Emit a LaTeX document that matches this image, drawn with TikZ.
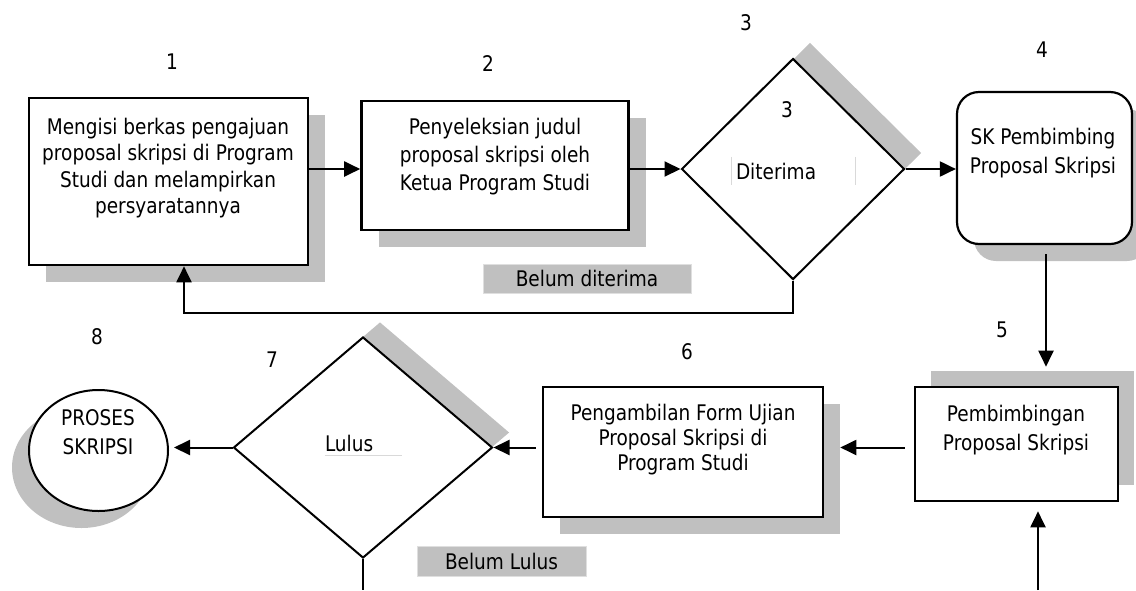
\documentclass[tikz,border=0pt]{standalone}
\usepackage{fontspec}
\setmainfont{DejaVu Sans}[FakeStretch=0.86]
\usetikzlibrary{shapes.geometric,shadows,arrows.meta,calc}
\definecolor{shade}{HTML}{C0C0C0}

\begin{document}
\begin{tikzpicture}[x=1pt,y=-1pt,
  every node/.style={inner sep=0pt,font=\fontsize{21.5}{27}\selectfont},
  shad/.style 2 args={general shadow={fill=shade,shadow xshift=#1,shadow yshift=#2}},
  box/.style={draw,fill=white,line width=2.6pt},
  dia/.style={draw,fill=white,diamond,line width=2pt},
  txt/.style={align=center},
  tag/.style={fill=shade,draw=gray!25,line width=.8pt},
  arr/.style={line width=2pt,-{Triangle[length=16pt,width=15pt]}},
  wire/.style={line width=2pt},
  faint/.style={draw=gray!30,line width=.8pt}]
\useasboundingbox (0,0) rectangle (1136,590);
\clip (0,0) rectangle (1136,590);

% upper row
\node [box,shad={17pt}{-17pt},minimum width=279pt,minimum height=167pt] (b1) at (168.5,181.5) {};
\node [txt,font=\fontsize{21.5}{26.5}\selectfont] (t1) at (168,168) {Mengisi berkas pengajuan\\proposal skripsi di Program\\Studi dan melampirkan\\persyaratannya};
\node (n1) at (172,62) {1};

\node [box,shad={17pt}{-17pt},minimum width=267pt,minimum height=129pt] (b2) at (495,165.5) {};
\node [txt,font=\fontsize{21.5}{28}\selectfont] (t2) at (495,157) {Penyeleksian judul\\proposal skripsi oleh\\Ketua Program Studi};
\node (n2) at (488,64) {2};

\node [dia,shad={17pt}{16pt},minimum width=223pt,minimum height=221pt] (d3) at (793,169) {};
\node (n3) at (746,23) {3};
\node (n3b) at (787,110) {3};
\node [minimum width=123pt,minimum height=28pt,text width=115pt,align=left] (dt) at (793.5,171) {Diterima};
\draw [faint] (dt.north west) -- (dt.south west) (dt.north east) -- (dt.south east);

\node [box,line width=2.2pt,rounded corners=22pt,shad={17pt}{-17pt},minimum width=175pt,minimum height=152pt] (b4) at (1044.5,168) {};
\node [txt,font=\fontsize{21.5}{29}\selectfont] (t4) at (1043,153.5) {SK Pembimbing\\Proposal Skripsi};
\node (n4) at (1042,50) {4};

\node [tag,minimum width=208pt,minimum height=29pt] (bd) at (587,278.5) {Belum diterima};

% lower row
\node [box,shad={16pt}{16pt},minimum width=203pt,minimum height=114pt] (b5) at (1016.5,444) {};
\node [txt,font=\fontsize{21.5}{29}\selectfont] (t5) at (1016,430.5) {Pembimbingan\\Proposal Skripsi};
\node (n5) at (1002,330) {5};

\node [box,shad={17pt}{-17pt},minimum width=280pt,minimum height=130pt] (b6) at (683,452) {};
\node [txt,font=\fontsize{21.5}{25}\selectfont] (t6) at (683,440) {Pengambilan Form Ujian\\Proposal Skripsi di\\Program Studi};
\node (n6) at (687,352) {6};

\node [dia,shad={17pt}{15pt},minimum width=259pt,minimum height=221pt] (d7) at (363,447.5) {};
\node (n7) at (272,360) {7};
\node [minimum width=77pt,text width=77pt,align=left,minimum height=24pt] (lu) at (363.5,443) {Lulus};
\draw [faint] (lu.south west) -- (lu.south east);

\node [ellipse,draw,fill=white,line width=2pt,shad={-17pt}{-17pt},minimum width=139pt,minimum height=121pt] (c8) at (98.5,450.5) {};
\node [txt,font=\fontsize{21.5}{29}\selectfont] (t8) at (98,432.5) {PROSES\\SKRIPSI};
\node (n8) at (97,337) {8};

\node [tag,minimum width=169pt,minimum height=30pt] (bl) at (501.5,561) {Belum Lulus};

% connectors
\draw [arr] (b1.east |- d3) -- (b2.west |- d3);
\draw [arr] (b2.east |- d3) -- (d3.west);
\draw [arr] (d3.east) -- (b4.west |- d3);
\draw [arr] (d3.south) -- ++(0,32) -| ($(b1.south)+(15.5,0)$);
\draw [arr] ($(b4.south)+(1.5,9)$) -- ($(b4.south |- b5.north)+(1.5,-19)$);
\coordinate (in5) at (1038,590);
\draw [arr] (in5) -- ($(in5 |- b5.south)+(0,9)$);
\draw [arr] ($(b5.west |- d7)+(-9,0)$) -- ($(b6.east |- d7)+(16,0)$);
\draw [arr] ($(b6.west |- d7)+(-6,0)$) -- (d7.east);
\draw [arr] (d7.west) -- ($(c8.east |- d7)+(5,0)$);
\coordinate (out7) at (363,590);
\draw [wire] (d7.south) -- (out7);
\end{tikzpicture}
\end{document}
